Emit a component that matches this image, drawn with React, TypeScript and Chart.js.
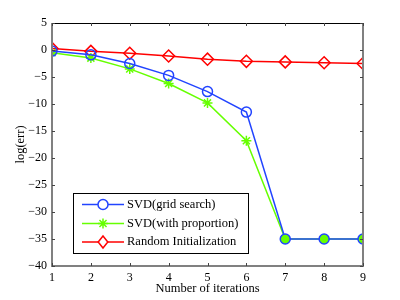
import React, { useEffect, useRef } from "react";
import { Chart, registerables } from "chart.js";

Chart.register(...registerables);

const iterations = [1, 2, 3, 4, 5, 6, 7, 8, 9];
const svdGrid = [-0.2, -0.9, -2.5, -4.7, -7.7, -11.5, -35, -35, -35];
const svdProportion = [-0.5, -1.5, -3.5, -6.2, -9.8, -16.8, -35, -35, -35];
const randomInit = [0.3, -0.25, -0.6, -1.1, -1.7, -2.1, -2.2, -2.35, -2.5];
const seriesLabels = ["SVD(grid search)", "SVD(with proportion)", "Random Initialization"];
const yTicks = [5, 0, -5, -10, -15, -20, -25, -30, -35, -40];

const FONT = "'Liberation Serif', 'DejaVu Serif', serif";

function drawMarker(ctx: CanvasRenderingContext2D, style: string, x: number, y: number, r: number) {
  ctx.beginPath();
  if (style === "circle") {
    ctx.arc(x, y, r, 0, Math.PI * 2);
    ctx.fill();
    ctx.stroke();
  } else if (style === "rectRot") {
    ctx.moveTo(x, y - r);
    ctx.lineTo(x + r * 0.8, y);
    ctx.lineTo(x, y + r);
    ctx.lineTo(x - r * 0.8, y);
    ctx.closePath();
    ctx.fill();
    ctx.stroke();
  } else {
    for (let k = 0; k < 4; k++) {
      const ang = (k * Math.PI) / 4;
      ctx.moveTo(x - Math.cos(ang) * r, y - Math.sin(ang) * r);
      ctx.lineTo(x + Math.cos(ang) * r, y + Math.sin(ang) * r);
    }
    ctx.stroke();
  }
}

const framePlugin = {
  id: "frame",
  afterDatasetsDraw(chart: any) {
    const { ctx, chartArea: a, scales } = chart;
    const x = scales.x;
    const y = scales.y;
    ctx.save();
    ctx.strokeStyle = "#000";
    ctx.lineWidth = 1;
    ctx.beginPath();
    ctx.moveTo(a.left, a.top + 0.5);
    ctx.lineTo(a.right, a.top + 0.5);
    ctx.stroke();
    ctx.strokeStyle = "#808080";
    ctx.lineWidth = 2;
    ctx.beginPath();
    ctx.moveTo(a.left, a.top);
    ctx.lineTo(a.left, a.bottom);
    ctx.lineTo(a.right, a.bottom);
    ctx.lineTo(a.right, a.top);
    ctx.stroke();
    ctx.lineWidth = 1;
    ctx.strokeStyle = "#444";
    const tl = 3;
    for (const v of iterations) {
      const px = Math.round(x.getPixelForValue(v)) + 0.5;
      ctx.beginPath();
      ctx.moveTo(px, a.bottom);
      ctx.lineTo(px, a.bottom - tl);
      ctx.moveTo(px, a.top);
      ctx.lineTo(px, a.top + tl);
      ctx.stroke();
    }
    for (const v of yTicks) {
      const py = Math.round(y.getPixelForValue(v)) + 0.5;
      ctx.beginPath();
      ctx.moveTo(a.left, py);
      ctx.lineTo(a.left + tl, py);
      ctx.moveTo(a.right, py);
      ctx.lineTo(a.right - tl, py);
      ctx.stroke();
    }
    const lx = 73, ly = 193, lw = 175, lh = 60;
    ctx.fillStyle = "#fff";
    ctx.fillRect(lx, ly, lw, lh);
    ctx.strokeStyle = "#000";
    ctx.lineWidth = 1;
    ctx.strokeRect(lx + 0.5, ly + 0.5, lw, lh);
    const rows = [204.5, 223.5, 242];
    ctx.font = "12.5px " + FONT;
    ctx.textBaseline = "middle";
    chart.data.datasets.forEach((ds: any, i: number) => {
      const ry = rows[i];
      ctx.strokeStyle = ds.borderColor;
      ctx.lineWidth = 1.5;
      ctx.beginPath();
      ctx.moveTo(82, ry);
      ctx.lineTo(124, ry);
      ctx.stroke();
      ctx.fillStyle = "#fff";
      ctx.lineWidth = 1.5;
      ctx.strokeStyle = ds.borderColor;
      drawMarker(ctx, ds.pointStyle, 103, ry, ds.pointRadius);
      ctx.fillStyle = "#000";
      ctx.fillText(ds.label, 127, ry);
    });
    ctx.restore();
  },
};

export default function App() {
  const ref = useRef<HTMLCanvasElement>(null);
  useEffect(() => {
    if (!ref.current) return;
    const mk = (label: string, data: number[], color: string, style: string, r: number, fill: any) => ({
      label,
      data: iterations.map((x, i) => ({ x, y: data[i] })),
      borderColor: color,
      pointBorderColor: color,
      pointBackgroundColor: fill,
      backgroundColor: color,
      borderWidth: 1.5,
      pointBorderWidth: 1.5,
      pointStyle: style,
      pointRadius: r,
      tension: 0,
    });
    const overlapFill = iterations.map((_, i) => (svdGrid[i] === svdProportion[i] ? "#66ff00" : "rgba(0,0,0,0)"));
    const chart = new Chart(ref.current, {
      type: "line",
      data: {
        datasets: [
          mk(seriesLabels[0], svdGrid, "#2244ff", "circle", 5, overlapFill),
          mk(seriesLabels[1], svdProportion, "#66ff00", "star", 5, "rgba(0,0,0,0)"),
          mk(seriesLabels[2], randomInit, "#ff0000", "rectRot", 6, "rgba(0,0,0,0)"),
        ],
      },
      options: {
        animation: false,
        responsive: false,
        maintainAspectRatio: false,
        layout: { padding: { top: 23, right: 37, left: 0, bottom: 0 } },
        plugins: { legend: { display: false }, tooltip: { enabled: false } },
        scales: {
          x: {
            type: "linear",
            min: 1,
            max: 9,
            grid: { display: false, drawTicks: false },
            border: { display: false },
            ticks: { stepSize: 1, padding: 5, color: "#000", font: { family: FONT, size: 12 } },
            title: { display: true, text: "Number of iterations", color: "#000", padding: { top: 0, bottom: 4 }, font: { family: FONT, size: 12.5 } },
            afterFit: (s: any) => { s.height = 34; },
          },
          y: {
            min: -40,
            max: 5,
            grid: { display: false, drawTicks: false },
            border: { display: false },
            ticks: { stepSize: 5, padding: 5, color: "#000", font: { family: FONT, size: 12 },
              callback: (v: any) => (Number(v) < 0 ? "\u2212" + Math.abs(Number(v)) : String(v)) },
            title: { display: true, text: "log(err)", color: "#000", padding: { top: 13, bottom: 0 }, font: { family: FONT, size: 12.5 } },
            afterFit: (s: any) => { s.width = 52; },
          },
        },
      } as any,
      plugins: [framePlugin],
    });
    return () => chart.destroy();
  }, []);
  return (
    <div style={{ position: "fixed", left: 0, top: 0, width: 400, height: 300, background: "#fff" }}>
      <canvas ref={ref} width={400} height={300} style={{ width: 400, height: 300 }} />
    </div>
  );
}
